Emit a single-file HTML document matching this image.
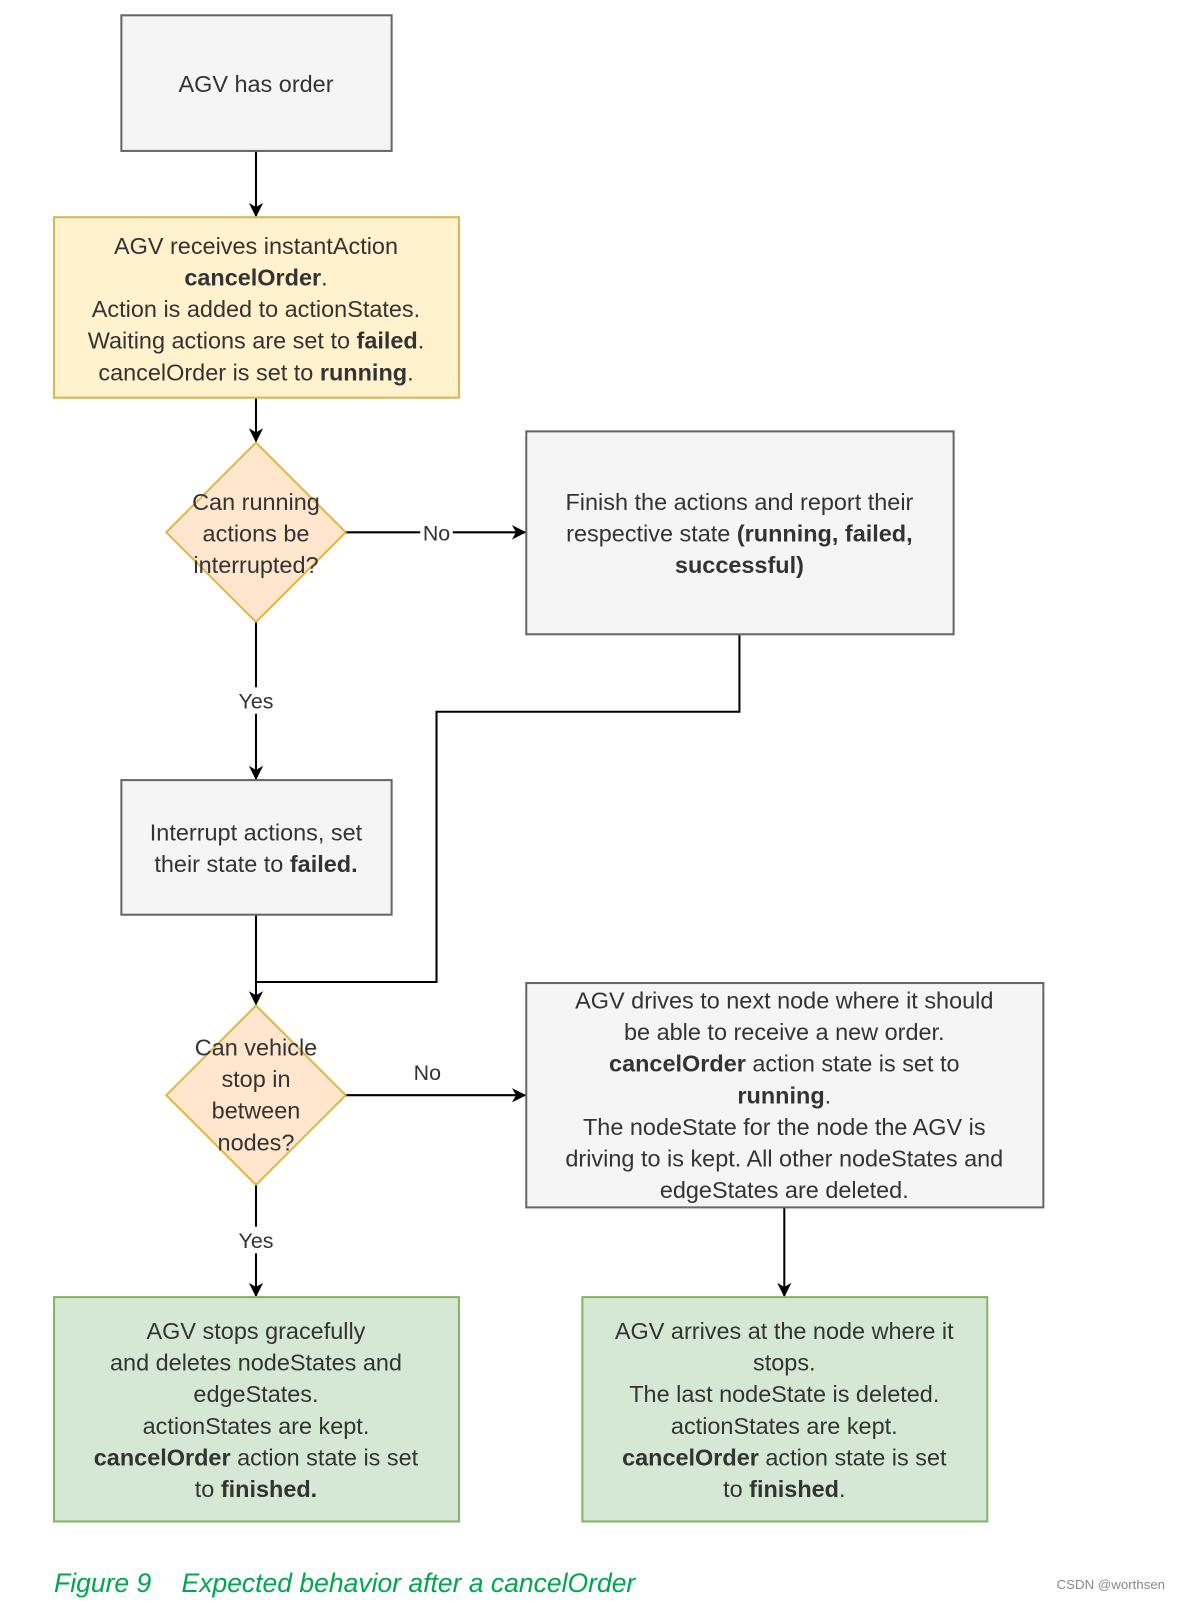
<!DOCTYPE html>
<html><head><meta charset="utf-8"><style>
html,body{margin:0;padding:0;background:#fff;}
svg{display:block;}
text{font-family:"Liberation Sans",Arial,sans-serif;font-size:23px;fill:#333;}
.b{font-weight:bold;}
</style></head><body>
<svg width="1179" height="1601" viewBox="0 0 1156 1570" preserveAspectRatio="none" xmlns="http://www.w3.org/2000/svg">
<defs><marker id="a" markerWidth="14" markerHeight="14" refX="13" refY="7" orient="auto" markerUnits="userSpaceOnUse"><path d="M0,0 L14,7 L0,14 L4,7 z" fill="#000"/></marker></defs>
<g stroke="#000" stroke-width="2" fill="none">
<line x1="251" y1="148" x2="251" y2="212" marker-end="url(#a)"/>
<line x1="251" y1="390" x2="251" y2="433" marker-end="url(#a)"/>
<line x1="339" y1="522" x2="515" y2="522" marker-end="url(#a)"/>
<line x1="251" y1="610" x2="251" y2="764" marker-end="url(#a)"/>
<polyline points="725,622 725,698 428,698 428,963 251,963"/>
<line x1="251" y1="897" x2="251" y2="985" marker-end="url(#a)"/>
<line x1="339" y1="1074" x2="515" y2="1074" marker-end="url(#a)"/>
<line x1="251" y1="1162" x2="251" y2="1271" marker-end="url(#a)"/>
<line x1="769" y1="1184" x2="769" y2="1271" marker-end="url(#a)"/>
</g>
<rect x="119" y="15" width="265" height="133" fill="#f5f5f5" stroke="#666" stroke-width="2"/>
<rect x="53" y="213" width="397" height="177" fill="#fff2cc" stroke="#d6b656" stroke-width="2"/>
<polygon points="251,434 339,522 251,610 163,522" fill="#ffe6cc" stroke="#d79b00" stroke-opacity="0.7" stroke-width="2"/>
<rect x="516" y="423" width="419" height="199" fill="#f5f5f5" stroke="#666" stroke-width="2"/>
<rect x="119" y="765" width="265" height="132" fill="#f5f5f5" stroke="#666" stroke-width="2"/>
<polygon points="251,986 339,1074 251,1162 163,1074" fill="#ffe6cc" stroke="#d79b00" stroke-opacity="0.7" stroke-width="2"/>
<rect x="516" y="964" width="507" height="220" fill="#f5f5f5" stroke="#666" stroke-width="2"/>
<rect x="53" y="1272" width="397" height="220" fill="#d5e8d4" stroke="#82b366" stroke-width="2"/>
<rect x="571" y="1272" width="397" height="220" fill="#d5e8d4" stroke="#82b366" stroke-width="2"/>
<g text-anchor="middle">
<text x="251" y="90">AGV has order</text>
<text x="251" y="249">AGV receives instantAction</text>
<text x="251" y="280"><tspan class="b">cancelOrder</tspan>.</text>
<text x="251" y="311">Action is added to actionStates.</text>
<text x="251" y="342">Waiting actions are set to <tspan class="b">failed</tspan>.</text>
<text x="251" y="373">cancelOrder is set to <tspan class="b">running</tspan>.</text>
<text x="251" y="500">Can running</text>
<text x="251" y="531">actions be</text>
<text x="251" y="562">interrupted?</text>
<rect x="412" y="510" width="32" height="24" fill="#fff"/>
<text x="428" y="530" style="font-size:21px">No</text>
<text x="725" y="500">Finish the actions and report their</text>
<text x="725" y="531">respective state <tspan class="b">(running, failed,</tspan></text>
<text x="725" y="562" class="b">successful)</text>
<rect x="230" y="674" width="42" height="26" fill="#fff"/>
<text x="251" y="695" style="font-size:21px">Yes</text>
<text x="251" y="824">Interrupt actions, set</text>
<text x="251" y="855">their state to <tspan class="b">failed.</tspan></text>
<text x="251" y="1035">Can vehicle</text>
<text x="251" y="1066">stop in</text>
<text x="251" y="1097">between</text>
<text x="251" y="1128">nodes?</text>
<text x="419" y="1059" style="font-size:21px">No</text>
<text x="769" y="989">AGV drives to next node where it should</text>
<text x="769" y="1020">be able to receive a new order.</text>
<text x="769" y="1051"><tspan class="b">cancelOrder</tspan> action state is set to</text>
<text x="769" y="1082" class="b">running<tspan style="font-weight:normal">.</tspan></text>
<text x="769" y="1113">The nodeState for the node the AGV is</text>
<text x="769" y="1144">driving to is kept. All other nodeStates and</text>
<text x="769" y="1175">edgeStates are deleted.</text>
<rect x="230" y="1203" width="42" height="26" fill="#fff"/>
<text x="251" y="1224" style="font-size:21px">Yes</text>
<text x="251" y="1313">AGV stops gracefully</text>
<text x="251" y="1344">and deletes nodeStates and</text>
<text x="251" y="1375">edgeStates.</text>
<text x="251" y="1406">actionStates are kept.</text>
<text x="251" y="1437"><tspan class="b">cancelOrder</tspan> action state is set</text>
<text x="251" y="1468">to <tspan class="b">finished.</tspan></text>
<text x="769" y="1313">AGV arrives at the node where it</text>
<text x="769" y="1344">stops.</text>
<text x="769" y="1375">The last nodeState is deleted.</text>
<text x="769" y="1406">actionStates are kept.</text>
<text x="769" y="1437"><tspan class="b">cancelOrder</tspan> action state is set</text>
<text x="769" y="1468">to <tspan class="b">finished</tspan>.</text>
</g>
<text x="53" y="1561" style="font-size:26px;font-style:italic;fill:#00a650">Figure 9<tspan x="178">Expected behavior after a cancelOrder</tspan></text>
<text x="1036" y="1558" style="font-size:13px;fill:#888">CSDN @worthsen</text>
</svg>
</body></html>
